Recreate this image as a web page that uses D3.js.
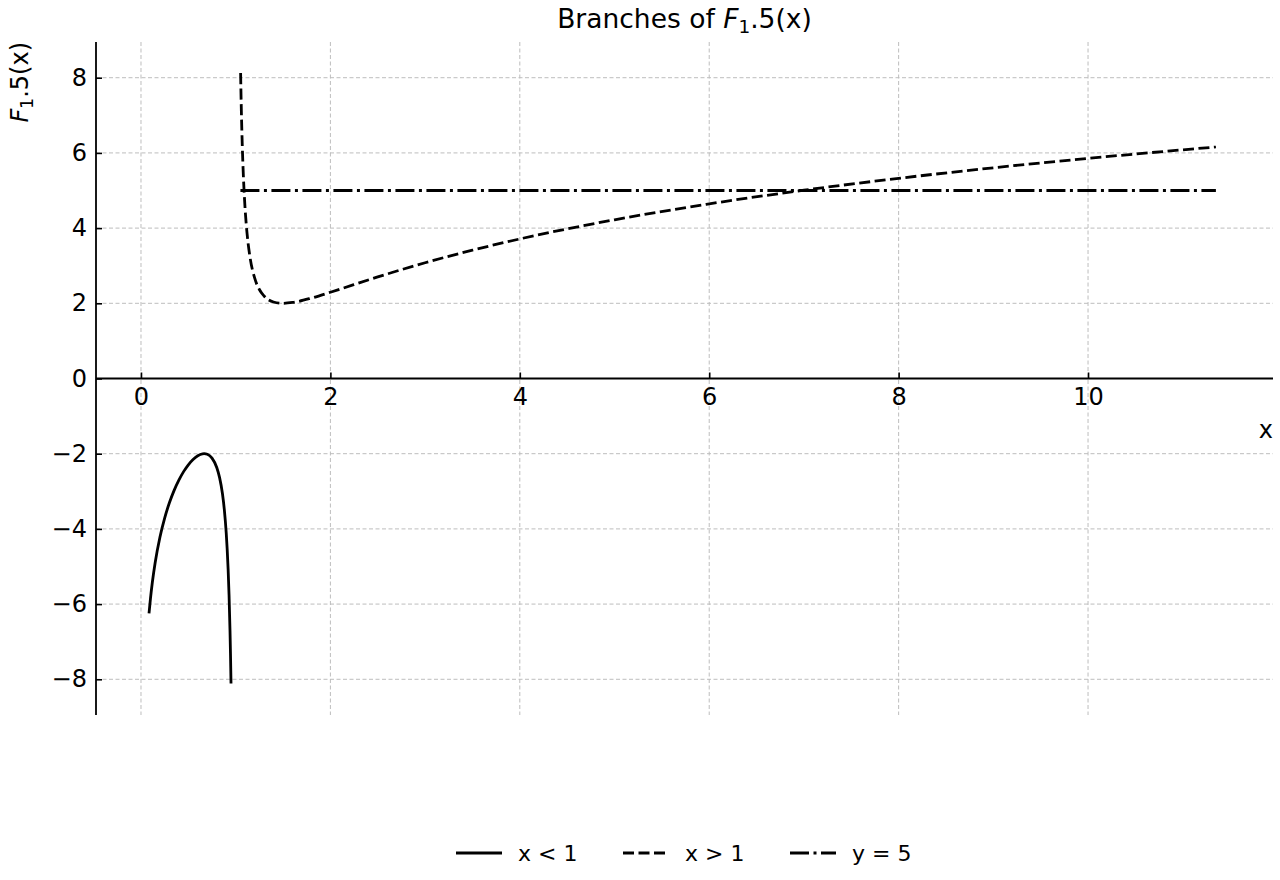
<!DOCTYPE html>
<html>
<head>
<meta charset="utf-8">
<script src="https://cdn.jsdelivr.net/npm/d3@7"></script>
<style>
html,body{margin:0;padding:0;background:#fff;}
svg{display:block;font-family:"DejaVu Sans",sans-serif;}
</style>
</head>
<body>
<svg id="chart" width="1280" height="880"></svg>
<script>
// ---- data ----
const branchLowX = [0.085,0.1,0.12,0.15,0.2,0.25,0.3,0.35,0.4,0.45,0.5,0.55,0.6,0.65,0.667,0.7,0.75,0.8,0.83,0.86,0.88,0.9,0.91,0.92,0.93,0.94,0.945,0.95,0.9505];
const branchLowY = [-6.244,-5.855,-5.420,-4.893,-4.221,-3.712,-3.306,-2.975,-2.702,-2.477,-2.295,-2.153,-2.054,-2.004,-2.000,-2.016,-2.119,-2.367,-2.636,-3.060,-3.487,-4.108,-4.532,-5.068,-5.766,-6.706,-7.307,-8.031,-8.11];
const branchHighX = [1.052,1.055,1.06,1.07,1.08,1.1,1.12,1.15,1.2,1.25,1.3,1.4,1.5,1.6,1.8,2,2.5,3,3.5,4,5,6,7,8,9,10,11.35];
const branchHighY = [8.124,7.705,7.102,6.160,5.458,4.489,3.857,3.246,2.674,2.367,2.193,2.035,2.000,2.022,2.139,2.294,2.702,3.079,3.413,3.712,4.221,4.645,5.008,5.324,5.604,5.855,6.158];
const refLineX = [1.05, 11.35];
const refLineY = [5, 5];
const xTicks = [0,2,4,6,8,10];
const yTicks = [-8,-6,-4,-2,0,2,4,6,8];
const legendLabels = ["x < 1","x > 1","y = 5"];

// ---- layout ----
const svg = d3.select("#chart");
const L = 96, R = 1273, T = 42, B = 715;
const x = d3.scaleLinear().domain([-0.475, 11.953]).range([L, R]);
const y = d3.scaleLinear().domain([-8.95, 8.95]).range([B, T]);

const styles = [
  {dash: null},
  {dash: "11,4.5"},
  {dash: "19,4.5,3,4.5"}
];

svg.append("defs").append("clipPath").attr("id","clip")
  .append("rect").attr("x",L).attr("y",T).attr("width",R-L).attr("height",B-T);

// grid
const grid = svg.append("g").attr("stroke","#bdbdbd").attr("stroke-width",1).attr("stroke-dasharray","4,2.5");
grid.selectAll(".gx").data(xTicks).join("line")
  .attr("x1",d=>x(d)).attr("x2",d=>x(d)).attr("y1",T).attr("y2",B);
grid.selectAll(".gy").data(yTicks).join("line")
  .attr("y1",d=>y(d)).attr("y2",d=>y(d)).attr("x1",L).attr("x2",R);

// curves
const line = d3.line().x(d=>x(d[0])).y(d=>y(d[1])).curve(d3.curveMonotoneX);
const series = [
  d3.zip(branchLowX, branchLowY),
  d3.zip(branchHighX, branchHighY),
  d3.zip(refLineX, refLineY)
];
const plot = svg.append("g").attr("clip-path","url(#clip)");
series.forEach((s,i)=>{
  plot.append("path").datum(s).attr("d",line)
    .attr("fill","none").attr("stroke","#000").attr("stroke-width",2.8)
    .attr("stroke-dasharray",styles[i].dash);
});

// axes (x axis at y=0, y axis at left), ticks inward
const xAxis = d3.axisBottom(x).tickValues(xTicks).tickSizeInner(-6).tickSizeOuter(0).tickPadding(9).tickFormat(d3.format("d"));
const gx = svg.append("g").attr("transform",`translate(0,${y(0)})`).call(xAxis);
gx.select(".domain").attr("d",`M${L},0H${R}`);
const yAxis = d3.axisLeft(y).tickValues(yTicks).tickSizeInner(-6).tickSizeOuter(0).tickPadding(9).tickFormat(d3.format("d"));
const gy = svg.append("g").attr("transform",`translate(${L},0)`).call(yAxis);
gy.select(".domain").attr("d",`M0,${T}V${B}`);
[gx,gy].forEach(g=>{
  g.attr("font-size",24).attr("font-family","DejaVu Sans, sans-serif");
  g.select(".domain").attr("stroke","#000").attr("stroke-width",1.8);
  g.selectAll(".tick line").attr("stroke","#000").attr("stroke-width",1.6);
  g.selectAll(".tick text").attr("font-size",24).attr("fill","#000");
});

// title
const title = svg.append("text").attr("x",(L+R)/2).attr("y",28).attr("text-anchor","middle")
  .attr("font-size",26.5).attr("fill","#000");
title.append("tspan").text("Branches of ");
title.append("tspan").attr("font-style","italic").text("F");
title.append("tspan").attr("font-size",18.5).attr("dy",5).text("1");
title.append("tspan").attr("dy",-5).text(".5(x)");

// y label
const yl = svg.append("text").attr("transform",`translate(28,${T}) rotate(-90)`)
  .attr("text-anchor","end").attr("font-size",24).attr("fill","#000");
yl.append("tspan").attr("font-style","italic").text("F");
yl.append("tspan").attr("font-size",17).attr("dy",4.5).text("1");
yl.append("tspan").attr("dy",-4.5).text(".5(x)");

// x label
svg.append("text").attr("x",R).attr("y",438).attr("text-anchor","end")
  .attr("font-size",24).attr("fill","#000").text("x");

// legend
const legX = [456, 623, 790];
const leg = svg.append("g");
legendLabels.forEach((lab,i)=>{
  leg.append("line").attr("x1",legX[i]).attr("x2",legX[i]+46).attr("y1",853).attr("y2",853)
    .attr("stroke","#000").attr("stroke-width",2.8).attr("stroke-dasharray",styles[i].dash);
  leg.append("text").attr("x",legX[i]+62).attr("y",861).attr("font-size",22)
    .attr("fill","#000").text(lab);
});
</script>
</body>
</html>
